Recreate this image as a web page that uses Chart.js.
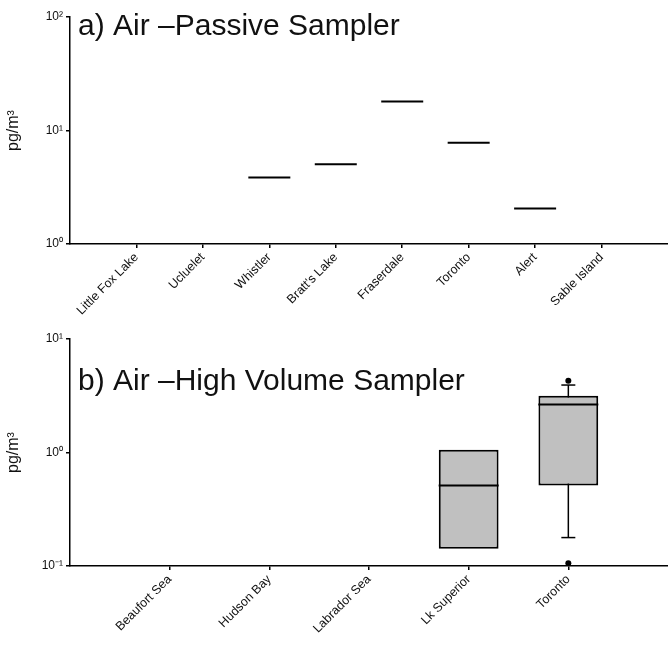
<!DOCTYPE html>
<html>
<head>
<meta charset="utf-8">
<script src="https://cdn.jsdelivr.net/npm/chart.js@4/dist/chart.umd.min.js"></script>
<style>
    html, body { margin: 0; padding: 0; background: #fff; }
    .panel { width: 668px; position: relative; }
    canvas { display: block; }
</style>
</head>
<body>
<div class="panel"><canvas id="passiveChart" width="668" height="322"></canvas></div>
<div class="panel"><canvas id="hvChart" width="668" height="323"></canvas></div>
<script>
// a) passive sampler - only a median per site
const passiveSites = ["Little Fox Lake", "Ucluelet", "Whistler", "Bratt's Lake", "Fraserdale", "Toronto", "Alert", "Sable Island"];
const passiveMedian = [null, null, 3.85, 5.05, 18.0, 7.78, 2.05, null];
const passiveTicks = [1, 10, 100];
const passiveTickLabels = ["10⁰", "10¹", "10²"];

// b) high volume sampler - box plots
const hvSites = ["Beaufort Sea", "Hudson Bay", "Labrador Sea", "Lk Superior", "Toronto"];
const hvQ1 = [null, null, null, 0.142, 0.512];
const hvMedian = [null, null, null, 0.512, 2.65];
const hvQ3 = [null, null, null, 1.06, 3.16];
const hvWhiskerLow = [null, null, null, null, 0.178];
const hvWhiskerHigh = [null, null, null, null, 3.93];
const hvOutliers = [[], [], [], [], [4.29, 0.106]];
const hvTicks = [0.1, 1, 10];
const hvTickLabels = ["10⁻¹", "10⁰", "10¹"];

const FONT = '"Liberation Sans", Arial, Helvetica, sans-serif';
Chart.defaults.font.family = FONT;
Chart.defaults.color = '#111';

const panelTitle = {
    id: 'panelTitle',
    afterDraw(chart, args, opts) {
        const ctx = chart.ctx;
        ctx.save();
        ctx.font = '30px ' + FONT;
        ctx.fillStyle = '#111';
        ctx.textBaseline = 'alphabetic';
        ctx.fillText(opts.text, chart.chartArea.left + opts.dx, chart.chartArea.top + opts.dy);
        ctx.restore();
    }
};

function axisLines() {
    return {
        grid: { display: true, offset: false, drawOnChartArea: false, drawTicks: true, tickLength: 4, color: '#000', lineWidth: 1.5 },
        border: { display: true, color: '#000', width: 1.5 }
    };
}

function xAxis(sites, height) {
    return Object.assign({
        type: 'linear',
        offset: false,
        min: 0,
        max: sites.length + 1,
        afterBuildTicks: (s) => { s.ticks = sites.map((_, i) => ({ value: i + 1 })); },
        afterFit: (s) => { s.height = height; },
        ticks: {
            autoSkip: false,
            minRotation: 45,
            maxRotation: 45,
            padding: 2,
            font: { size: 12.5 },
            callback: (v) => sites[v - 1]
        }
    }, axisLines());
}

function yAxis(min, max, tickVals, tickLabels) {
    return Object.assign({
        type: 'logarithmic',
        min: min,
        max: max,
        afterBuildTicks: (s) => { s.ticks = tickVals.map(v => ({ value: v, major: true })); },
        afterFit: (s) => { s.width = 70; },
        ticks: {
            padding: 3,
            font: { size: 12 },
            callback: (v) => tickLabels[tickVals.indexOf(v)]
        },
        title: { display: true, text: 'pg/m³', color: '#111', font: { size: 16 }, padding: { top: 4, bottom: 0 } }
    }, axisLines());
}

function toPoints(values) {
    let pts = [];
    values.forEach((v, i) => {
        if (v !== null) pts.push({ x: i + 1, y: v });
    });
    return pts;
}

const baseOptions = {
    responsive: false,
    animation: false,
    events: [],
    plugins: { legend: { display: false }, tooltip: { enabled: false } }
};

// ---- panel a
new Chart(document.getElementById('passiveChart').getContext('2d'), {
    type: 'scatter',
    data: {
        datasets: [{
            label: 'median',
            data: toPoints(passiveMedian),
            pointStyle: 'line',
            pointRadius: 21,
            borderColor: '#000',
            pointBorderWidth: 2
        }]
    },
    options: Object.assign({}, baseOptions, {
        layout: { autoPadding: false, padding: { top: 17, right: 0, left: 0, bottom: 0 } },
        scales: {
            x: xAxis(passiveSites, 78),
            y: yAxis(1, 100, passiveTicks, passiveTickLabels)
        },
        plugins: Object.assign({}, baseOptions.plugins, {
            panelTitle: { text: 'a) Air –Passive Sampler', dx: 8, dy: 18 }
        })
    }),
    plugins: [panelTitle]
});

// ---- panel b
let boxes = [];
hvSites.forEach((s, i) => {
    if (hvQ1[i] !== null) boxes.push({ x: i + 1, y: [hvQ1[i], hvQ3[i]] });
});

let whiskers = [];
let caps = [];
hvSites.forEach((s, i) => {
    if (hvWhiskerLow[i] === null) return;
    whiskers.push({ x: i + 1, y: hvWhiskerLow[i] }, { x: i + 1, y: hvWhiskerHigh[i] }, { x: i + 1, y: null });
    caps.push({ x: i + 1, y: hvWhiskerLow[i] }, { x: i + 1, y: hvWhiskerHigh[i] });
});

let outliers = [];
hvOutliers.forEach((list, i) => {
    list.forEach(v => outliers.push({ x: i + 1, y: v }));
});

new Chart(document.getElementById('hvChart').getContext('2d'), {
    type: 'bar',
    data: {
        datasets: [
            {
                type: 'line',
                label: 'whisker',
                data: whiskers,
                borderColor: '#000',
                borderWidth: 1.5,
                pointRadius: 0,
                spanGaps: false,
                order: 4
            },
            {
                type: 'bar',
                label: 'box',
                data: boxes,
                backgroundColor: '#c0c0c0',
                borderColor: '#000',
                borderWidth: 2,
                borderSkipped: false,
                barPercentage: 0.6,
                categoryPercentage: 1,
                order: 3
            },
            {
                type: 'scatter',
                label: 'median',
                data: toPoints(hvMedian),
                pointStyle: 'line',
                pointRadius: 30,
                borderColor: '#000',
                pointBorderWidth: 2,
                order: 2
            },
            {
                type: 'scatter',
                label: 'cap',
                data: caps,
                pointStyle: 'line',
                pointRadius: 7,
                borderColor: '#000',
                pointBorderWidth: 1.5,
                order: 1
            },
            {
                type: 'scatter',
                label: 'outlier',
                data: outliers,
                pointStyle: 'circle',
                pointRadius: 3,
                backgroundColor: '#000',
                borderColor: '#000',
                pointBorderWidth: 0,
                order: 0
            }
        ]
    },
    options: Object.assign({}, baseOptions, {
        layout: { autoPadding: false, padding: { top: 17, right: 0, left: 0, bottom: 0 } },
        scales: {
            x: xAxis(hvSites, 79),
            y: yAxis(0.1, 10, hvTicks, hvTickLabels)
        },
        plugins: Object.assign({}, baseOptions.plugins, {
            panelTitle: { text: 'b) Air –High Volume Sampler', dx: 8, dy: 51 }
        })
    }),
    plugins: [panelTitle]
});
</script>
</body>
</html>
